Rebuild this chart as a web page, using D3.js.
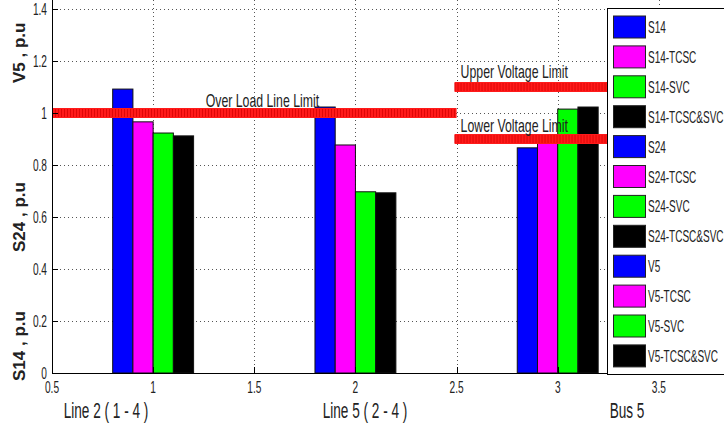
<!DOCTYPE html>
<html>
<head>
<meta charset="utf-8">
<script src="https://cdn.jsdelivr.net/npm/d3@7"></script>
<style>
  body { margin: 0; background: #fff; }
  svg { display: block; }
</style>
</head>
<body>
<svg width="724" height="424"></svg>
<script>
// group positions and labels
var groupPos = [1, 2, 3];
var groupLabels = ["Line 2 ( 1 - 4 )", "Line 5 ( 2 - 4 )", "Bus 5"];
var groupLabelX = [106, 365, 627];

// four cases per group
var cases = ["", "-TCSC", "-SVC", "-TCSC&SVC"];
var caseColors = ["#0000ff", "#ff00ff", "#00ff00", "#000000"];

// values (p.u)
var s14 = [1.092, 0.966, 0.923, 0.912];
var s24 = [1.023, 0.877, 0.697, 0.693];
var v5 = [0.866, 0.89, 1.015, 1.023];
var seriesNames = ["S14", "S24", "V5"];

// limit lines
var overLoad = { y: 1.0, x0: 0.5, x1: 2.5, text: "Over Load Line Limit", tx: 1.26, ty: 1.025 };
var upperV = { y: 1.1, x0: 2.49, x1: 4, text: "Upper Voltage Limit", tx: 2.52, ty: 1.133 };
var lowerV = { y: 0.9, x0: 2.49, x1: 4, text: "Lower Voltage Limit", tx: 2.52, ty: 0.928 };

var xTicks = [0.5, 1, 1.5, 2, 2.5, 3, 3.5];
var yTicks = [0, 0.2, 0.4, 0.6, 0.8, 1, 1.2, 1.4];

var svg = d3.select("svg");
var x = d3.scaleLinear().domain([0.5, 4]).range([52, 760]);
var y = d3.scaleLinear().domain([0, 1.4]).range([373, 9]);
var barW = 0.1;

// condensed text helper (the picture is squeezed sideways)
function label(parent, px, py, str, size, sx, sy, anchor) {
  return parent.append("text")
    .attr("transform", "translate(" + px + "," + py + ") scale(" + sx + "," + sy + ")")
    .attr("text-anchor", anchor || "start")
    .style("font-family", "Liberation Sans, Arial, sans-serif")
    .style("font-size", size + "px")
    .attr("fill", "#222")
    .text(str);
}

// grid
var grid = svg.append("g").attr("stroke", "#555").attr("stroke-width", 1)
  .attr("stroke-dasharray", "1,3");
grid.selectAll(".gx").data(xTicks.slice(1)).enter().append("line")
  .attr("x1", (d) => Math.round(x(d)) + 0.5).attr("x2", (d) => Math.round(x(d)) + 0.5)
  .attr("y1", 0).attr("y2", y(0));
grid.selectAll(".gy").data(yTicks.slice(1)).enter().append("line")
  .attr("x1", x(0.5)).attr("x2", 724)
  .attr("y1", (d) => Math.round(y(d)) + 0.5).attr("y2", (d) => Math.round(y(d)) + 0.5);

// bars
var bars = [];
[s14, s24, v5].forEach(function (vals, gi) {
  vals.forEach(function (v, ci) {
    bars.push({ x: groupPos[gi] - 0.2 + ci * barW, v: v, c: caseColors[ci] });
  });
});
svg.append("g").selectAll("rect").data(bars).enter().append("rect")
  .attr("x", (d) => x(d.x))
  .attr("y", (d) => y(d.v))
  .attr("width", (d) => x(d.x + barW) - x(d.x))
  .attr("height", (d) => y(0) - y(d.v))
  .attr("fill", (d) => d.c)
  .attr("stroke", "#111")
  .attr("stroke-width", 1);

// limit lines (thick red star-marker bands)
var limits = svg.append("g");
[overLoad, upperV, lowerV].forEach(function (l) {
  limits.append("line")
    .attr("x1", x(l.x0)).attr("x2", x(l.x1))
    .attr("y1", y(l.y)).attr("y2", y(l.y))
    .attr("stroke", "#ff1a1a").attr("stroke-width", 10);
  limits.append("line")
    .attr("x1", x(l.x0)).attr("x2", x(l.x1))
    .attr("y1", y(l.y)).attr("y2", y(l.y))
    .attr("stroke", "#d40000").attr("stroke-width", 8)
    .attr("stroke-dasharray", "1,2").attr("opacity", 0.7);
  label(limits, x(l.tx), y(l.ty), l.text, 15, 0.82, 1.22);
});

// axes lines + inward ticks
var ax = svg.append("g").attr("stroke", "#000").attr("stroke-width", 1);
ax.append("line").attr("x1", 52.5).attr("x2", 52.5).attr("y1", 0).attr("y2", 373.5);
ax.append("line").attr("x1", 52).attr("x2", 724).attr("y1", 373.5).attr("y2", 373.5);
ax.selectAll(".ty").data(yTicks).enter().append("line")
  .attr("x1", 52).attr("x2", 58)
  .attr("y1", (d) => Math.round(y(d)) + 0.5).attr("y2", (d) => Math.round(y(d)) + 0.5);
ax.selectAll(".tx").data(xTicks).enter().append("line")
  .attr("x1", (d) => Math.round(x(d)) + 0.5).attr("x2", (d) => Math.round(x(d)) + 0.5)
  .attr("y1", 373).attr("y2", 367);

// tick labels
var tl = svg.append("g");
yTicks.forEach(function (t) {
  label(tl, 47, y(t) + 5.5, d3.format("")(t), 13, 0.78, 1.3, "end");
});
xTicks.forEach(function (t) {
  label(tl, x(t), 393, d3.format("")(t), 13, 0.78, 1.3, "middle");
});

// group labels
groupLabels.forEach(function (g, i) {
  label(tl, groupLabelX[i], 418, g, 17, 0.8, 1.3, "middle");
});

// y axis titles
var yTitles = [{ t: "S14 , p.u", y: 381 }, { t: "S24 , p.u", y: 252 }, { t: "V5 , p.u", y: 83 }];
yTitles.forEach(function (d) {
  svg.append("text")
    .attr("transform", "translate(25," + d.y + ") rotate(-90)")
    .style("font-family", "Liberation Sans, Arial, sans-serif")
    .style("font-size", "17px")
    .style("font-weight", "bold")
    .attr("fill", "#222")
    .text(d.t);
});

// legend
var legendItems = [];
seriesNames.forEach(function (s) {
  cases.forEach(function (c, ci) {
    legendItems.push({ name: s + c, color: caseColors[ci] });
  });
});
var lg = svg.append("g");
lg.append("rect").attr("x", 607.5).attr("y", 8.5).attr("width", 140).attr("height", 366)
  .attr("fill", "#fff").attr("stroke", "#000");
legendItems.forEach(function (d, i) {
  var cy = 27 + i * 29.9;
  lg.append("rect").attr("x", 613.5).attr("y", cy - 11).attr("width", 32).attr("height", 22)
    .attr("fill", d.color).attr("stroke", "#222");
  label(lg, 648, cy + 6, d.name, 12.5, 0.8, 1.3);
});
</script>
</body>
</html>
